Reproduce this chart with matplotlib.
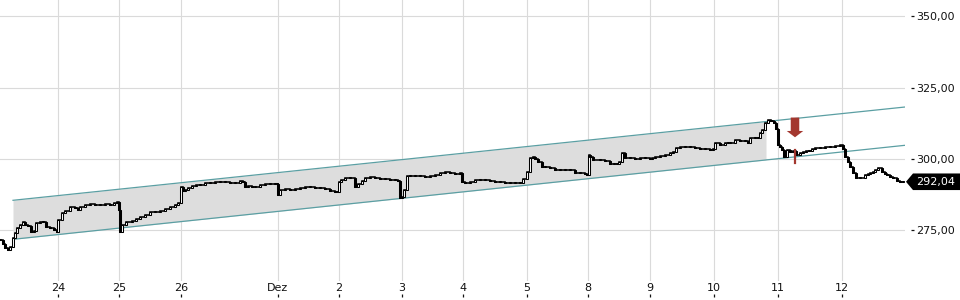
import matplotlib
matplotlib.use("Agg")
import matplotlib.pyplot as plt
import numpy as np
from matplotlib.patches import Polygon, Rectangle
from matplotlib.transforms import IdentityTransform

# ---------------- data (x = intraday bar index, price = close) ----------------
seg_pre_t = [0, 3, 5, 8, 10, 13, 15, 17, 20, 23, 25, 28, 31, 34, 36, 40, 43, 46, 50, 54, 57]
seg_pre_p = [271.68, 270.28, 268.88, 268.18, 269.23, 272.38, 274.13, 275.87, 276.92, 277.97, 276.92,
             276.57, 274.48, 274.83, 277.62, 277.97, 277.97, 276.22, 275.87, 275.17, 274.48]

seg_24_t = [58, 62, 65, 70, 75, 78, 80, 85, 90, 95, 100, 105, 110, 114, 117]
seg_24_p = [278.67, 281.12, 281.82, 283.22, 282.87, 282.17, 283.22, 283.92, 284.27, 283.92, 283.92,
            284.27, 283.92, 284.62, 284.97]

seg_25_t = [119, 120, 122, 126, 132, 136, 140, 145, 150, 155, 160, 165, 170, 175, 178]
seg_25_p = [282.17, 274.48, 276.92, 277.97, 278.32, 279.02, 279.72, 280.42, 281.47, 281.47, 281.82,
            282.52, 283.22, 283.92, 284.62]

seg_26_t = [181, 183, 185, 188, 192, 196, 200, 205, 210, 215, 220, 225, 230, 235, 240, 243, 245, 248,
            252, 255, 260, 265, 270, 275, 277]
seg_26_p = [290.21, 288.81, 289.16, 289.86, 290.56, 290.91, 290.91, 291.61, 291.61, 291.96, 291.96,
            291.96, 291.61, 291.61, 292.31, 291.96, 290.21, 290.56, 290.21, 290.21, 290.91, 291.26,
            291.26, 291.26, 291.26]

seg_d1_t = [278, 280, 285, 290, 295, 300, 305, 310, 315, 320, 325, 330, 335, 338]
seg_d1_p = [287.41, 289.16, 289.51, 289.16, 289.51, 289.86, 290.21, 290.21, 289.86, 289.86, 289.51,
            288.81, 288.46, 288.46]

seg_d2_t = [339, 341, 345, 350, 355, 358, 362, 365, 370, 375, 380, 385, 390, 395, 398]
seg_d2_p = [291.96, 292.66, 293.36, 293.36, 290.21, 291.26, 292.31, 293.36, 293.71, 293.36, 293.01,
            293.01, 292.66, 292.66, 292.31]

seg_d3_t = [400, 402, 404, 407, 410, 415, 420, 425, 430, 435, 440, 445, 450, 455, 460]
seg_d3_p = [286.36, 286.71, 289.16, 294.06, 294.06, 294.06, 294.06, 293.71, 294.06, 294.41, 295.10,
            295.45, 295.10, 294.76, 295.10]

seg_d4_t = [462, 465, 470, 475, 480, 485, 490, 495, 500, 505, 510, 515, 520, 523]
seg_d4_p = [291.96, 291.61, 291.96, 292.66, 292.66, 292.66, 292.31, 291.96, 291.96, 291.61, 291.61,
            291.61, 291.61, 293.01]

seg_d5_t = [527, 530, 533, 535, 538, 542, 545, 550, 555, 560, 565, 570, 575, 580, 585, 587]
seg_d5_p = [295.45, 300.35, 300.70, 300.00, 298.95, 297.20, 297.20, 296.85, 296.15, 296.15, 296.15,
            296.15, 295.10, 295.10, 294.76, 294.41]

seg_d8_t = [589, 590, 593, 600, 605, 610, 614, 617, 619, 622, 625, 630, 635, 640, 645, 650]
seg_d8_p = [301.40, 300.70, 299.65, 299.65, 299.30, 298.25, 298.25, 298.25, 298.95, 302.10, 300.35,
            300.35, 300.00, 300.35, 300.35, 300.00]

seg_d9_t = [652, 655, 660, 665, 670, 673, 676, 680, 685, 690, 695, 700, 705, 710, 713]
seg_d9_p = [300.35, 300.70, 301.05, 301.40, 302.10, 302.45, 303.85, 304.20, 304.20, 304.20, 303.85,
            303.50, 303.50, 303.15, 303.50]

seg_d10_t = [715, 720, 725, 728, 730, 735, 740, 745, 748, 750, 755, 758, 760, 762, 765, 768, 771, 774, 776]
seg_d10_p = [305.59, 304.90, 305.59, 305.59, 305.59, 306.64, 306.29, 306.29, 305.59, 307.34, 307.34,
             307.34, 309.09, 310.14, 312.59, 313.64, 313.29, 312.59, 310.49]

seg_d11_t = [778, 780, 782, 784, 787, 790, 793, 796, 800, 803, 806, 809, 812, 815, 820, 825, 830, 835, 840]
seg_d11_p = [304.90, 304.20, 303.15, 300.70, 303.15, 302.45, 302.80, 301.40, 302.10, 302.45, 302.80,
             302.80, 303.50, 303.85, 303.85, 304.20, 304.20, 304.55, 304.90]

seg_d12_t = [843, 845, 848, 850, 853, 856, 860, 865, 868, 870, 873, 875, 878, 882, 885, 887, 890, 893,
             897, 900, 903]
seg_d12_p = [303.50, 300.70, 298.95, 297.20, 295.10, 293.36, 293.36, 294.41, 294.76, 295.10, 295.45,
             296.15, 296.85, 295.45, 294.76, 294.41, 293.71, 293.36, 292.31, 291.96, 292.04]

last_price = 292.04

# trend channel anchors (start bar, end bar, prices)
channel_t = [13, 905]
channel_upper = [285.56, 318.18]
channel_lower = [271.92, 304.79]
channel_fill_end = 766

# sell signal
signal_t = 795
signal_arrow_top = 314.5
signal_arrow_tip = 307.6
signal_candle = [298.60, 303.15]

# axis
tick_pos = [58, 119, 181, 278, 339, 402, 463, 527, 588, 650, 714, 778, 842]
tick_labels = ['24', '25', '26', 'Dez', '2', '3', '4', '5', '8', '9', '10', '11', '12']
y_ticks = [275, 300, 325, 350]
y_labels = ['275,00', '300,00', '325,00', '350,00']
x_range = [0, 905]
y_range = [257.34, 355.6]

# ---------------- build ----------------
t = np.array(seg_pre_t + seg_24_t + seg_25_t + seg_26_t + seg_d1_t + seg_d2_t + seg_d3_t + seg_d4_t +
             seg_d5_t + seg_d8_t + seg_d9_t + seg_d10_t + seg_d11_t + seg_d12_t, dtype=float)
p = np.array(seg_pre_p + seg_24_p + seg_25_p + seg_26_p + seg_d1_p + seg_d2_p + seg_d3_p + seg_d4_p +
             seg_d5_p + seg_d8_p + seg_d9_p + seg_d10_p + seg_d11_p + seg_d12_p, dtype=float)

W, H = 960, 300
fig = plt.figure(figsize=(W / 100, H / 100), dpi=100)
fig.patch.set_facecolor('white')
ax_bottom_px = 19
ax_right_px = 905
ax = fig.add_axes([0, ax_bottom_px / H, ax_right_px / W, (H - ax_bottom_px) / H])
ax.set_xlim(*x_range)
ax.set_ylim(*y_range)
for s in ax.spines.values():
    s.set_visible(False)
ax.set_xticks(tick_pos)
ax.set_yticks(y_ticks)
ax.tick_params(left=False, bottom=False, labelleft=False, labelbottom=False)
ax.grid(True, color='#dadada', lw=0.8)
ax.set_axisbelow(True)

teal = '#5b9fa3'
# channel fill
tf = np.array([channel_t[0], channel_fill_end], dtype=float)
up_f = np.interp(tf, channel_t, channel_upper)
lo_f = np.interp(tf, channel_t, channel_lower)
ax.fill_between(tf, lo_f, up_f, color='#dddddd', lw=0, zorder=1)
ax.plot(channel_t, channel_upper, color=teal, lw=0.9, zorder=2)
ax.plot(channel_t, channel_lower, color=teal, lw=0.9, zorder=2)

# price as connected mini candles
ax.step(t, p, where='post', color='black', lw=1.15, zorder=3, solid_joinstyle='miter')
opens = np.concatenate([[p[0]], p[:-1]])
bw = 2.4
for ti, o, c in zip(t, opens, p):
    lo, hi = min(o, c), max(o, c)
    h = max(hi - lo, 0.4)
    face = 'white' if c >= o else 'black'
    ax.add_patch(Rectangle((ti - bw / 2, lo), bw, h, facecolor=face, edgecolor='black', lw=0.75, zorder=4))

# signal
red = '#a3372f'
ax.plot([signal_t, signal_t], signal_candle, color=red, lw=1.6, zorder=5)
ax.arrow(signal_t, signal_arrow_top, 0, signal_arrow_tip - signal_arrow_top, width=8.5,
         head_width=16.5, head_length=2.2, length_includes_head=True, color=red, lw=0, zorder=6)

# bottom tick axis (ticks below labels)
axb = fig.add_axes([0, 3.3 / H, ax_right_px / W, 1e-5])
axb.set_xlim(*x_range)
for s in axb.spines.values():
    s.set_visible(False)
axb.set_yticks([])
axb.xaxis.tick_top()
axb.set_xticks(tick_pos, tick_labels)
axb.tick_params(axis='x', direction='out', length=2.4, width=0.9, pad=0.5, labelsize=8, colors='#111111')

# right tick axis
axr = fig.add_axes([910.5 / W, ax_bottom_px / H, 1e-5, (H - ax_bottom_px) / H])
axr.set_ylim(*y_range)
for s in axr.spines.values():
    s.set_visible(False)
axr.set_xticks([])
axr.yaxis.tick_right()
axr.set_yticks(y_ticks, y_labels)
axr.tick_params(axis='y', direction='out', length=2.0, width=0.9, pad=2.2, labelsize=8, colors='#111111')

# last value tag
tx, ty = ax.transData.transform((x_range[1], last_price))
tx += 1
verts = [(tx, ty), (tx + 7, ty + 8.3), (W, ty + 8.3), (W, ty - 8.3), (tx + 7, ty - 8.3)]
tag = Polygon(verts, closed=True, facecolor='black', edgecolor='none', transform=IdentityTransform())
fig.add_artist(tag)
fig.text((tx + 10.5) / W, ty / H, f"{last_price:.2f}".replace('.', ','),
         color='white', fontsize=8, va='center', ha='left')

fig.savefig('out.png', dpi=100)
